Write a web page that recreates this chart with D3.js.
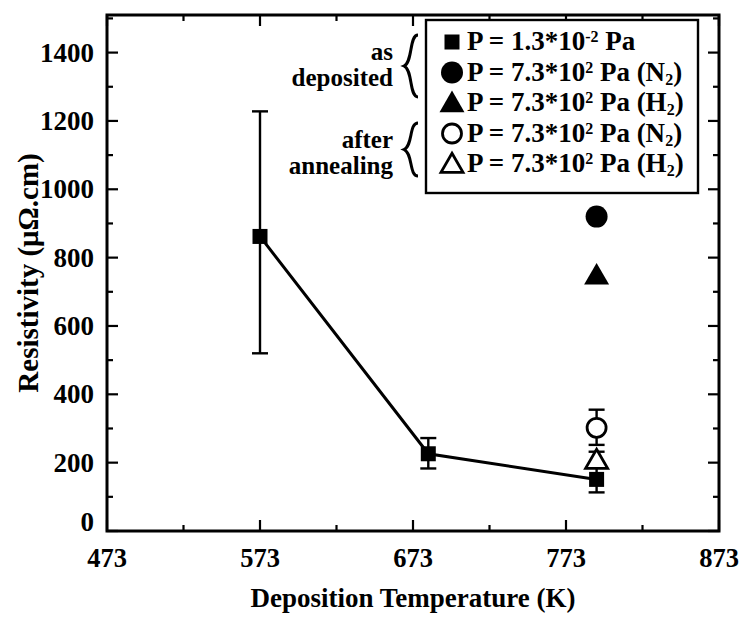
<!DOCTYPE html>
<html>
<head>
<meta charset="utf-8">
<script src="https://cdn.jsdelivr.net/npm/d3@7"></script>
<style>
  body { margin: 0; background: #fff; }
  text { font-family: "Liberation Serif", "Times New Roman", serif; font-weight: bold; fill: #000; }
</style>
</head>
<body>
<script>
// chart size
const width = 739;
const height = 619;

// data
const temps = [573, 683, 793];
const asDepLow = [862, 226, 151];
const asDepErrLo = [520, 183, 113];
const asDepErrHi = [1228, 272, 190];

const extraTemp = 793;
const dotN2 = 920;
const triH2 = 748;
const openN2 = 302;
const openN2Err = [252, 355];
const openH2 = 208;
const openH2Err = [186, 232];

const xTicks = [473, 573, 673, 773, 873];
const yTicks = [0, 200, 400, 600, 800, 1000, 1200, 1400];

const legendLabels = [
  { sym: "square", pre: "P = 1.3*10", sup: "-2", post: " Pa", sub: "" },
  { sym: "dot", pre: "P = 7.3*10", sup: "2", post: " Pa (N", sub: "2" },
  { sym: "tri", pre: "P = 7.3*10", sup: "2", post: " Pa (H", sub: "2" },
  { sym: "ring", pre: "P = 7.3*10", sup: "2", post: " Pa (N", sub: "2" },
  { sym: "otri", pre: "P = 7.3*10", sup: "2", post: " Pa (H", sub: "2" },
];

const plotL = 107, plotR = 719, plotT = 15, plotB = 531;

const svg = d3.select("body").append("svg")
  .attr("width", width)
  .attr("height", height);

const x = d3.scaleLinear().domain([473, 873]).range([plotL, plotR]);
const y = d3.scaleLinear().domain([0, 1510]).range([plotB, plotT]);

// ticks, inward on all four sides
const tickG = svg.append("g").attr("stroke", "#000").attr("stroke-width", 2.2);
d3.range(473, 874, 50).forEach((t) => {
  const len = (t - 473) % 100 === 0 ? 11 : 6;
  tickG.append("line").attr("x1", x(t)).attr("x2", x(t)).attr("y1", plotB).attr("y2", plotB - len);
  tickG.append("line").attr("x1", x(t)).attr("x2", x(t)).attr("y1", plotT).attr("y2", plotT + len);
});
d3.range(0, 1501, 100).forEach((t) => {
  const len = t % 200 === 0 ? 11 : 6;
  tickG.append("line").attr("y1", y(t)).attr("y2", y(t)).attr("x1", plotL).attr("x2", plotL + len);
  tickG.append("line").attr("y1", y(t)).attr("y2", y(t)).attr("x1", plotR).attr("x2", plotR - len);
});

// frame
svg.append("rect")
  .attr("x", plotL).attr("y", plotT)
  .attr("width", plotR - plotL).attr("height", plotB - plotT)
  .attr("fill", "none").attr("stroke", "#000").attr("stroke-width", 3);

// tick labels
svg.append("g").selectAll("text").data(xTicks).join("text")
  .attr("x", (d) => x(d)).attr("y", 567)
  .attr("text-anchor", "middle").attr("font-size", 26.5)
  .text((d) => d);

svg.append("g").selectAll("text").data(yTicks).join("text")
  .attr("x", 94).attr("y", (d) => (d === 0 ? y(d) : y(d) + 9))
  .attr("text-anchor", "end").attr("font-size", 27)
  .text((d) => d);

// axis titles
svg.append("text")
  .attr("x", (plotL + plotR) / 2).attr("y", 607)
  .attr("text-anchor", "middle").attr("font-size", 27)
  .text("Deposition Temperature (K)");

svg.append("text")
  .attr("transform", `translate(38,${(plotT + plotB) / 2}) rotate(-90)`)
  .attr("text-anchor", "middle").attr("font-size", 29)
  .text("Resistivity (μΩ.cm)");

// error bars
const errG = svg.append("g").attr("stroke", "#000").attr("stroke-width", 2.4);
function errBar(t, lo, hi) {
  errG.append("line").attr("x1", x(t)).attr("x2", x(t)).attr("y1", y(lo)).attr("y2", y(hi));
  [lo, hi].forEach((k) => {
    errG.append("line").attr("x1", x(t) - 8).attr("x2", x(t) + 8).attr("y1", y(k)).attr("y2", y(k));
  });
}
temps.forEach((t, i) => errBar(t, asDepErrLo[i], asDepErrHi[i]));
errBar(extraTemp, openN2Err[0], openN2Err[1]);
errBar(extraTemp, openH2Err[0], openH2Err[1]);

// line through as-deposited low pressure points
const line = d3.line().x((d) => x(d[0])).y((d) => y(d[1]));
svg.append("path")
  .datum(temps.map((t, i) => [t, asDepLow[i]]))
  .attr("d", line)
  .attr("fill", "none").attr("stroke", "#000").attr("stroke-width", 3);

// symbols
function drawSym(g, kind, cx, cy) {
  if (kind === "square") {
    g.append("rect").attr("x", cx - 7.5).attr("y", cy - 7.5).attr("width", 15).attr("height", 15).attr("fill", "#000");
  } else if (kind === "dot") {
    g.append("circle").attr("cx", cx).attr("cy", cy).attr("r", 11).attr("fill", "#000");
  } else if (kind === "ring") {
    g.append("circle").attr("cx", cx).attr("cy", cy).attr("r", 9.5).attr("fill", "#fff").attr("stroke", "#000").attr("stroke-width", 2.8);
  } else {
    const tri = d3.symbol().type(d3.symbolTriangle).size(kind === "tri" ? 270 : 210);
    g.append("path").attr("d", tri()).attr("transform", `translate(${cx},${cy + 2})`)
      .attr("fill", kind === "tri" ? "#000" : "#fff")
      .attr("stroke", "#000").attr("stroke-width", kind === "tri" ? 0 : 2.8);
  }
}

const markG = svg.append("g");
temps.forEach((t, i) => drawSym(markG, "square", x(t), y(asDepLow[i])));
drawSym(markG, "dot", x(extraTemp), y(dotN2));
drawSym(markG, "tri", x(extraTemp), y(triH2));
drawSym(markG, "ring", x(extraTemp), y(openN2));
drawSym(markG, "otri", x(extraTemp), y(openH2));

// legend
const lg = svg.append("g");
lg.append("rect").attr("x", 426).attr("y", 20).attr("width", 272).attr("height", 173)
  .attr("fill", "#fff").attr("stroke", "#000").attr("stroke-width", 2.4);

legendLabels.forEach((d, i) => {
  const cy = 42 + i * 30.5;
  drawSym(lg, d.sym, 452, cy);
  const txt = lg.append("text").attr("x", 467).attr("y", cy + 8).attr("font-size", 27);
  txt.append("tspan").text(d.pre);
  txt.append("tspan").attr("font-size", 16).attr("dy", -8).text(d.sup);
  txt.append("tspan").attr("dy", 8).text(d.post);
  if (d.sub) {
    txt.append("tspan").attr("font-size", 16).attr("dy", 4).text(d.sub);
    txt.append("tspan").attr("dy", -4).text(")");
  }
});

// group notes with braces
const notes = [
  { lines: ["as", "deposited"], y0: 35, y1: 97 },
  { lines: ["after", "annealing"], y0: 123, y1: 176 },
];
notes.forEach((n) => {
  n.lines.forEach((s, j) => {
    svg.append("text").attr("x", 393).attr("y", n.y0 + 25 + j * 26)
      .attr("text-anchor", "end").attr("font-size", 25).text(s);
  });
  const m = (n.y0 + n.y1) / 2;
  const bx = 411;
  svg.append("path")
    .attr("d", `M${bx + 7},${n.y0} C${bx - 2},${n.y0} ${bx + 2},${m - 4} ${bx - 7},${m}`
      + ` C${bx + 2},${m + 4} ${bx - 2},${n.y1} ${bx + 7},${n.y1}`)
    .attr("fill", "none").attr("stroke", "#000").attr("stroke-width", 3);
});
</script>
</body>
</html>
